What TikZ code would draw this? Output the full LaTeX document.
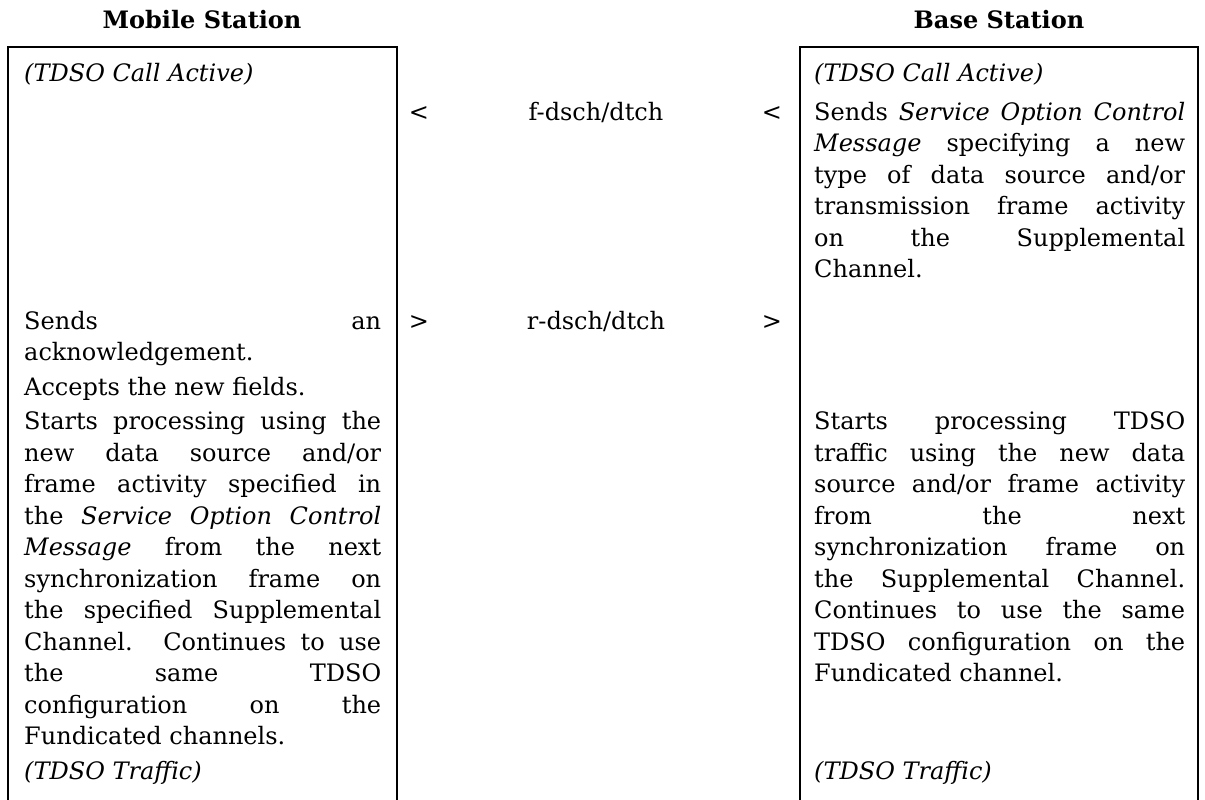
\documentclass[tikz,border=0pt]{standalone}
\usepackage{fontspec}
\setmainfont{DejaVu Serif}
\usetikzlibrary{positioning}
\setlength{\parindent}{0pt}

\begin{document}
\begin{tikzpicture}[x=1pt,y=-1pt,
    cell/.style={anchor=north west,inner sep=0pt,align=justify,
        font=\fontsize{24}{31.5}\selectfont,
        execute at begin node={\noindent\strut\tolerance=10000\hyphenpenalty=10000}},
    lcell/.style={cell,text width=357pt},
    rcell/.style={cell,text width=371pt},
    head/.style={anchor=base,inner sep=0pt,font=\fontsize{24}{28}\selectfont\bfseries},
    link/.style={anchor=base,inner sep=0pt,font=\fontsize{24}{28}\selectfont}]
    \useasboundingbox (0,0) rectangle (1205,800);
    \clip (0,0) rectangle (1205,800);

    \node[head] (msHead) at (202,29) {Mobile Station};
    \node[head] (bsHead) at (999,29) {Base Station};

    \draw[line width=1.5pt] (8,47) rectangle (397,830);
    \draw[line width=1.5pt] (800,47) rectangle (1198,830);

    % mobile station column
    \node[lcell] (msActive) at (24,59) {\emph{(TDSO Call Active)}};
    \node[lcell] (msSend) at (24,307) {Sends an\linebreak acknowledgement.};
    \node[lcell] (msAccept) at (24,373) {Accepts the new fields.};
    \node[lcell] (msStart) at (24,407.5) {Starts processing using the\linebreak
        new data source and/or\linebreak
        frame activity specified in\linebreak
        the \emph{Service Option Control}\linebreak
        \emph{Message} from the next\linebreak
        synchronization frame on\linebreak
        the specified Supplemental\linebreak
        Channel. Continues to use\linebreak
        the same TDSO\linebreak
        configuration on the\linebreak
        Fundicated channels.};
    \node[lcell] (msTraffic) at (24,757) {\emph{(TDSO Traffic)}};

    % base station column
    \node[rcell] (bsActive) at (814,59) {\emph{(TDSO Call Active)}};
    \node[rcell] (bsSend) at (814,98) {Sends \emph{Service Option Control}\linebreak
        \emph{Message} specifying a new\linebreak
        type of data source and/or\linebreak
        transmission frame activity\linebreak
        on the Supplemental\linebreak
        Channel.};
    \node[rcell] (bsStart) at (814,407.5) {Starts processing TDSO\linebreak
        traffic using the new data\linebreak
        source and/or frame activity\linebreak
        from the next\linebreak
        synchronization frame on\linebreak
        the Supplemental Channel.\linebreak
        Continues to use the same\linebreak
        TDSO configuration on the\linebreak
        Fundicated channel.};
    \node[rcell] (bsTraffic) at (814,757) {\emph{(TDSO Traffic)}};

    % channels between the stations
    \node[link] (fwdIn) at (419,120) {<};
    \node[link] (fwdName) at (596,120) {f-dsch/dtch};
    \node[link] (fwdOut) at (772,120) {<};
    \node[link] (revIn) at (419,329) {>};
    \node[link] (revName) at (596,329) {r-dsch/dtch};
    \node[link] (revOut) at (772,329) {>};
\end{tikzpicture}
\end{document}
